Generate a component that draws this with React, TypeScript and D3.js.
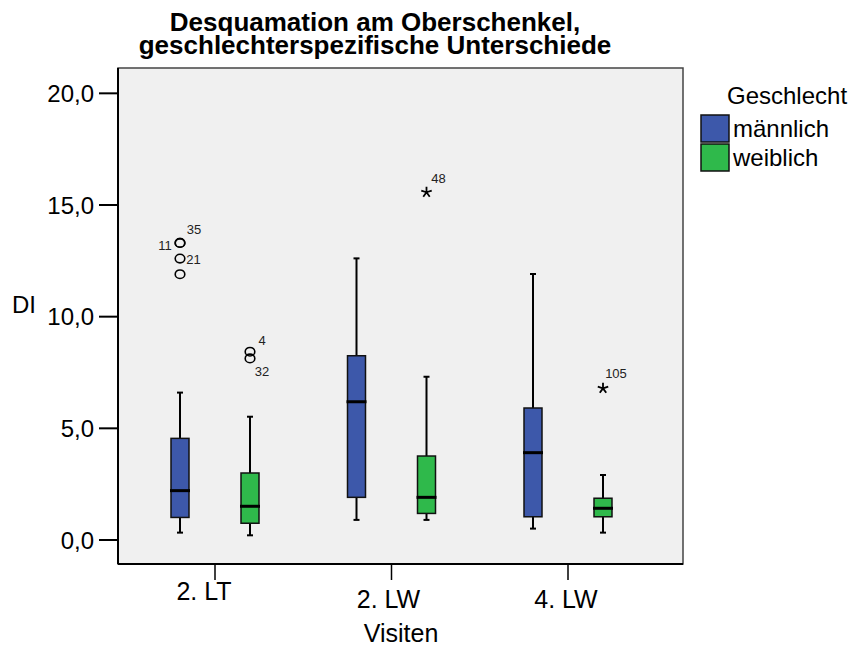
import React from "react";
import * as d3 from "d3";

// ---------- data ----------
const categories = ["2. LT", "2. LW", "4. LW"];
const groups = ["männlich", "weiblich"];
// [lower whisker, Q1, median, Q3, upper whisker] per category
const maleStats = [
  [0.33, 1.01, 2.21, 4.55, 6.6],
  [0.9, 1.91, 6.19, 8.25, 12.61],
  [0.51, 1.04, 3.91, 5.91, 11.91],
];
const femaleStats = [
  [0.21, 0.75, 1.51, 3.0, 5.52],
  [0.9, 1.19, 1.91, 3.76, 7.31],
  [0.33, 1.04, 1.42, 1.87, 2.91],
];
// outliers: category, group, value, case label, kind
const outlierCats = ["2. LT", "2. LT", "2. LT", "2. LT", "2. LT", "2. LT", "2. LW", "4. LW"];
const outlierGroups = ["männlich", "männlich", "männlich", "männlich", "weiblich", "weiblich", "weiblich", "weiblich"];
const outlierValues = [13.3, 13.3, 12.6, 11.9, 8.43, 8.13, 15.57, 6.79];
const outlierLabels = ["35", "11", "21", "", "4", "32", "48", "105"];
const outlierKinds = ["o", "o", "o", "o", "o", "o", "*", "*"];
const yTicks = [0, 5, 10, 15, 20];
const yTickLabels = ["0,0", "5,0", "10,0", "15,0", "20,0"];
const titleLines = ["Desquamation am Oberschenkel,", "geschlechterspezifische Unterschiede"];

// ---------- layout ----------
const W = 862, H = 646;
const plot = { left: 118, right: 683, top: 68, bottom: 564 };
const FONT = "'Liberation Sans', Arial, Helvetica, sans-serif";
const colors: Record<string, string> = { "männlich": "#3d58aa", "weiblich": "#2fb94b" };
const boxW = 18;
// label placement offsets relative to the symbol
const labelOffsets: Record<string, [number, number]> = {
  "35": [14, -14], "11": [-15, 2], "21": [13.5, 1], "4": [12, -11],
  "32": [12, 13], "48": [12, -14], "105": [13, -15],
};
const catLabelBaseline: Record<string, [number, number]> = {
  "2. LT": [-11, 600], "2. LW": [-3, 608], "4. LW": [-2, 608],
};

export default function App() {
  const y = d3.scaleLinear().domain([0, 20]).range([540, 93.33]);
  const x = d3.scalePoint<string>().domain(categories).range([215, 568]);
  const gx = d3.scalePoint<string>().domain(groups).range([-35, 35]);

  const boxes: { cx: number; s: number[]; color: string }[] = [];
  categories.forEach((c, i) => {
    boxes.push({ cx: x(c)! + gx("männlich")!, s: maleStats[i], color: colors["männlich"] });
    boxes.push({ cx: x(c)! + gx("weiblich")!, s: femaleStats[i], color: colors["weiblich"] });
  });

  const star = (cx: number, cy: number, r: number) => {
    const arms = d3.range(5).map((k) => {
      const a = -Math.PI / 2 + (k * 2 * Math.PI) / 5;
      return `M${cx},${cy}L${cx + r * Math.cos(a)},${cy + r * Math.sin(a)}`;
    });
    return arms.join("");
  };

  return (
    <div style={{ position: "absolute", left: 0, top: 0 }}>
      <svg width={W} height={H} style={{ display: "block", background: "#fff" }} fontFamily={FONT}>
        {/* title */}
        {titleLines.map((t, i) => (
          <text key={t} x={375} y={31 + i * 23} textAnchor="middle" fontSize={26} fontWeight="bold" fill="#000">
            {t}
          </text>
        ))}
        {/* plot background */}
        <rect x={plot.left} y={plot.top} width={plot.right - plot.left} height={plot.bottom - plot.top}
          fill="#f0f0f0" stroke="#444" strokeWidth={1.5} />
        {/* y axis */}
        <line x1={plot.left} x2={plot.left} y1={plot.top} y2={plot.bottom} stroke="#000" strokeWidth={2} />
        {yTicks.map((t, i) => (
          <g key={t}>
            <line x1={plot.left - 19} x2={plot.left} y1={y(t)} y2={y(t)} stroke="#000" strokeWidth={2} />
            <text x={plot.left - 24} y={y(t)} dy="0.36em" textAnchor="end" fontSize={24} fill="#000">
              {yTickLabels[i]}
            </text>
          </g>
        ))}
        <text x={12} y={313} fontSize={24} fill="#000">DI</text>
        {/* x axis */}
        <line x1={plot.left} x2={plot.right} y1={plot.bottom} y2={plot.bottom} stroke="#000" strokeWidth={2} />
        {categories.map((c) => (
          <g key={c}>
            <line x1={x(c)} x2={x(c)} y1={plot.bottom} y2={plot.bottom + 16} stroke="#000" strokeWidth={1.5} />
            <text x={x(c)! + catLabelBaseline[c][0]} y={catLabelBaseline[c][1]} textAnchor="middle" fontSize={25} fill="#000">
              {c}
            </text>
          </g>
        ))}
        <text x={401} y={642} textAnchor="middle" fontSize={25} fill="#000">Visiten</text>
        {/* boxes */}
        {boxes.map((b, i) => {
          const [lo, q1, med, q3, hi] = b.s;
          return (
            <g key={i}>
              <line x1={b.cx} x2={b.cx} y1={y(hi)} y2={y(q3)} stroke="#000" strokeWidth={2} />
              <line x1={b.cx} x2={b.cx} y1={y(q1)} y2={y(lo)} stroke="#000" strokeWidth={2} />
              <line x1={b.cx - 3} x2={b.cx + 3} y1={y(hi)} y2={y(hi)} stroke="#000" strokeWidth={2} />
              <line x1={b.cx - 3} x2={b.cx + 3} y1={y(lo)} y2={y(lo)} stroke="#000" strokeWidth={2} />
              <rect x={b.cx - boxW / 2} y={y(q3)} width={boxW} height={y(q1) - y(q3)} fill={b.color}
                stroke="#111" strokeWidth={1.5} />
              <line x1={b.cx - boxW / 2 - 1} x2={b.cx + boxW / 2 + 1} y1={y(med)} y2={y(med)} stroke="#000" strokeWidth={3} />
            </g>
          );
        })}
        {/* outliers */}
        {outlierValues.map((v, i) => {
          const cx = x(outlierCats[i])! + gx(outlierGroups[i])!;
          const cy = y(v);
          const lab = outlierLabels[i];
          const off = labelOffsets[lab];
          return (
            <g key={i}>
              {outlierKinds[i] === "o" ? (
                <ellipse cx={cx} cy={cy} rx={4.8} ry={4.3} fill="none" stroke="#000" strokeWidth={1.6} />
              ) : (
                <path d={star(cx, cy, 5.5)} stroke="#000" strokeWidth={1.8} fill="none" />
              )}
              {lab && off && (
                <text x={cx + off[0]} y={cy + off[1]} dy="0.36em" textAnchor="middle" fontSize={13} fill="#222">
                  {lab}
                </text>
              )}
            </g>
          );
        })}
        {/* legend */}
        <text x={727} y={104} fontSize={24} fill="#000">Geschlecht</text>
        {groups.map((g, i) => (
          <g key={g}>
            <rect x={701} y={115 + i * 29} width={28} height={27} fill={colors[g]} stroke="#111" strokeWidth={1.5} />
            <text x={733} y={137 + i * 29} fontSize={24} fill="#000">{g}</text>
          </g>
        ))}
      </svg>
    </div>
  );
}
